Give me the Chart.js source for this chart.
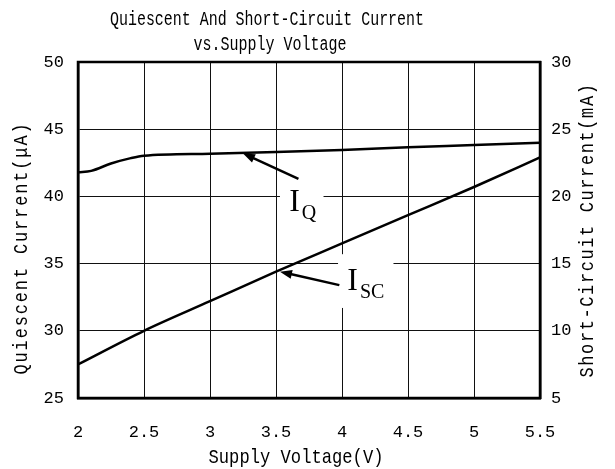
<!DOCTYPE html>
<html>
<head>
<meta charset="utf-8">
<script src="https://cdn.jsdelivr.net/npm/chart.js@4"></script>
<style>
html, body { margin: 0; padding: 0; background: #fff; }
</style>
</head>
<body>
<canvas id="chart" width="615" height="469"></canvas>
<script>
const voltageQ   = [2, 2.1, 2.25, 2.4, 2.5, 3, 3.5, 4, 4.5, 5, 5.5];
const quiescent  = [41.8, 41.9, 42.45, 42.85, 43.03, 43.18, 43.3, 43.45, 43.65, 43.82, 44.0];
const voltageSC  = [2, 2.5, 3, 3.5, 4, 4.5, 5, 5.5];
const shortCirc  = [7.5, 10.0, 12.2, 14.4, 16.5, 18.6, 20.7, 22.9];
const xTicks     = ["2", "2.5", "3", "3.5", "4", "4.5", "5", "5.5"];
const leftTicks  = ["25", "30", "35", "40", "45", "50"];
const rightTicks = ["5", "10", "15", "20", "25", "30"];

const titleLines = ["Quiescent And Short-Circuit Current", "vs.Supply Voltage"];
const xTitle     = "Supply Voltage(V)";
const leftTitle  = "Quiescent Current(μA)";
const rightTitle = "Short-Circuit Current(mA)";

const MONO = "'Liberation Mono', monospace";
const SERIF = "'Liberation Serif', serif";

// callouts, in data units
const callouts = [
    { axis: "y",  box: [3.53, 3.86, 41.3, 37.9], from: [3.67, 41.3], to: [3.25, 43.2], at: [3.6, 38.9], main: "I", sub: "Q" },
    { axis: "y2", box: [3.97, 4.39, 15.7, 11.7], from: [3.98, 13.4], to: [3.53, 14.4], at: [4.04, 13.06], main: "I", sub: "SC" },
];

function toPts(xs, ys) {
    return xs.map((v, i) => ({ x: v, y: ys[i] }));
}

// condensed mono text, looks closer to the original's half-width serif font
function condText(ctx, text, x, y, size, width, spacing, rot, baseline) {
    ctx.save();
    ctx.font = size + "px " + MONO;
    ctx.letterSpacing = (spacing || 0) + "px";
    ctx.textAlign = "center";
    ctx.textBaseline = baseline || "alphabetic";
    ctx.fillStyle = "#000";
    const natural = ctx.measureText(text).width;
    ctx.translate(x, y);
    if (rot) ctx.rotate(rot);
    ctx.scale(width / natural, 1);
    ctx.fillText(text, 0, 0);
    ctx.restore();
}

function arrow(ctx, x0, y0, x1, y1) {
    const a = Math.atan2(y1 - y0, x1 - x0);
    const len = 12, half = 4.5;
    ctx.beginPath();
    ctx.moveTo(x0, y0);
    ctx.lineTo(x1 - Math.cos(a) * len * 0.8, y1 - Math.sin(a) * len * 0.8);
    ctx.stroke();
    ctx.beginPath();
    ctx.moveTo(x1, y1);
    ctx.lineTo(x1 - Math.cos(a) * len - Math.sin(a) * half, y1 - Math.sin(a) * len + Math.cos(a) * half);
    ctx.lineTo(x1 - Math.cos(a) * len + Math.sin(a) * half, y1 - Math.sin(a) * len - Math.cos(a) * half);
    ctx.closePath();
    ctx.fill();
}

const extras = {
    id: "extras",
    beforeDatasetsDraw(chart) {
        const { ctx, scales } = chart;
        ctx.save();
        ctx.fillStyle = "#fff";
        callouts.forEach(c => {
            const s = scales[c.axis];
            const x0 = scales.x.getPixelForValue(c.box[0]), x1 = scales.x.getPixelForValue(c.box[1]);
            const y0 = s.getPixelForValue(c.box[2]), y1 = s.getPixelForValue(c.box[3]);
            ctx.fillRect(x0, y0, x1 - x0, y1 - y0);
        });
        ctx.restore();
    },
    afterDatasetsDraw(chart) {
        const { ctx, scales, chartArea: a } = chart;
        ctx.save();
        ctx.strokeStyle = "#000";
        ctx.fillStyle = "#000";
        ctx.lineWidth = 2.5;
        callouts.forEach(c => {
            const s = scales[c.axis];
            arrow(ctx,
                scales.x.getPixelForValue(c.from[0]), s.getPixelForValue(c.from[1]),
                scales.x.getPixelForValue(c.to[0]), s.getPixelForValue(c.to[1]));
            const lx = scales.x.getPixelForValue(c.at[0]), ly = s.getPixelForValue(c.at[1]);
            ctx.textBaseline = "alphabetic";
            ctx.textAlign = "left";
            ctx.font = "32px " + SERIF;
            ctx.fillText(c.main, lx, ly);
            const w = ctx.measureText(c.main).width;
            ctx.font = "20px " + SERIF;
            ctx.fillText(c.sub, lx + w + 2, ly + 8);
        });
        // frame
        ctx.lineWidth = 2.5;
        ctx.strokeRect(a.left, a.top, a.right - a.left, a.bottom - a.top);
        ctx.restore();
    },
    afterDraw(chart) {
        const { ctx } = chart;
        condText(ctx, titleLines[0], 267, 25, 20, 314);
        condText(ctx, titleLines[1], 270, 50, 20, 153);
        condText(ctx, xTitle, 296, 463, 21, 175);
        condText(ctx, leftTitle, 21, 248, 21, 253, 2.3, -Math.PI / 2, "middle");
        condText(ctx, rightTitle, 587, 230, 21, 295, 2.0, -Math.PI / 2, "middle");
    }
};

new Chart(document.getElementById("chart"), {
    type: "line",
    data: {
        datasets: [
            {
                label: "IQ",
                data: toPts(voltageQ, quiescent),
                yAxisID: "y",
                borderColor: "#000",
                borderWidth: 2.5,
                pointRadius: 0,
                cubicInterpolationMode: "monotone",
            },
            {
                label: "ISC",
                data: toPts(voltageSC, shortCirc),
                yAxisID: "y2",
                borderColor: "#000",
                borderWidth: 2.5,
                pointRadius: 0,
                cubicInterpolationMode: "monotone",
            }
        ]
    },
    plugins: [extras],
    options: {
        responsive: false,
        animation: false,
        layout: { padding: { top: 62 } },
        plugins: {
            legend: { display: false },
            tooltip: { enabled: false },
            title: { display: false },
        },
        scales: {
            x: {
                type: "linear",
                min: 2, max: 5.5,
                afterFit: s => { s.height = 71; },
                afterBuildTicks: s => { s.ticks = xTicks.map(t => ({ value: parseFloat(t) })); },
                ticks: {
                    color: "#000",
                    font: { family: MONO, size: 17 },
                    padding: 24,
                    maxRotation: 0,
                    callback: (v, i) => xTicks[i],
                },
                grid: { color: "#111", lineWidth: 1, drawTicks: false },
                border: { color: "#000", width: 2.5 },
            },
            y: {
                position: "left",
                min: 25, max: 50,
                afterFit: s => { s.width = 78; },
                afterBuildTicks: s => { s.ticks = leftTicks.map(t => ({ value: parseFloat(t) })); },
                ticks: {
                    color: "#000",
                    font: { family: MONO, size: 17 },
                    padding: 14,
                    callback: (v, i) => leftTicks[i],
                },
                grid: { color: "#111", lineWidth: 1, drawTicks: false },
                border: { color: "#000", width: 2.5 },
            },
            y2: {
                position: "right",
                min: 5, max: 30,
                afterFit: s => { s.width = 75; },
                afterBuildTicks: s => { s.ticks = rightTicks.map(t => ({ value: parseFloat(t) })); },
                ticks: {
                    color: "#000",
                    font: { family: MONO, size: 17 },
                    padding: 11,
                    callback: (v, i) => rightTicks[i],
                },
                grid: { display: false, drawTicks: false },
                border: { color: "#000", width: 2.5 },
            }
        }
    }
});
</script>
</body>
</html>
